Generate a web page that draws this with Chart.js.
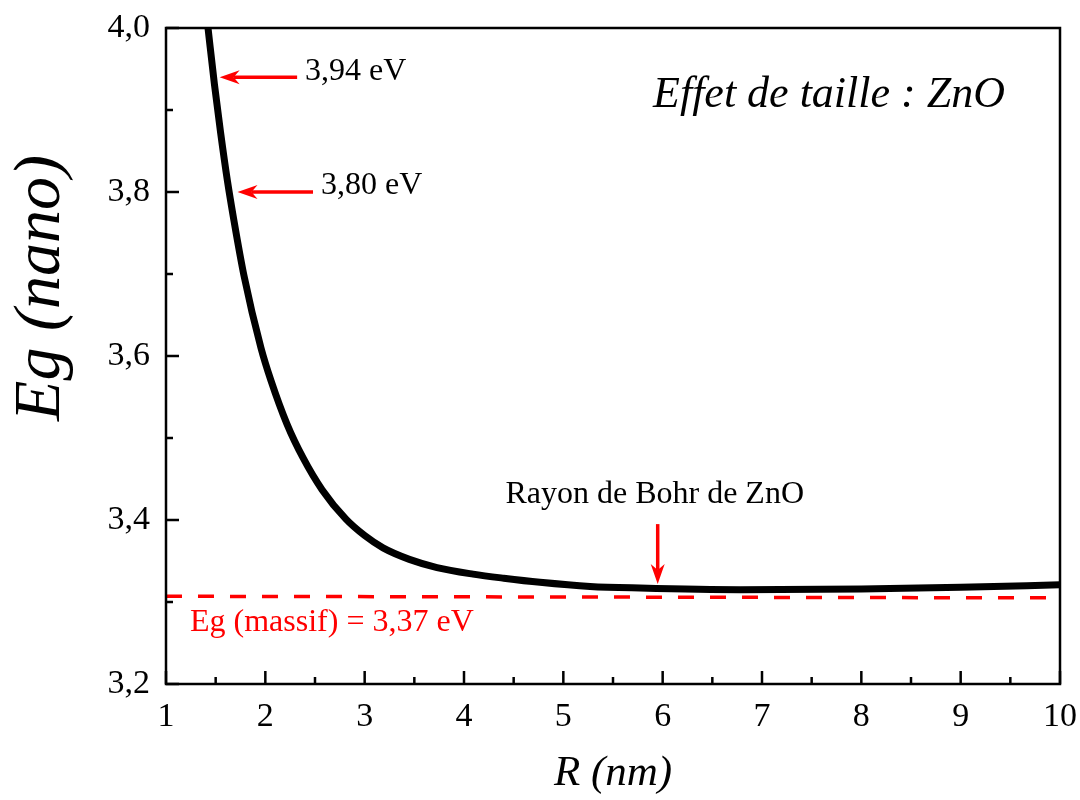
<!DOCTYPE html>
<html>
<head>
<meta charset="utf-8">
<title>Effet de taille : ZnO</title>
<script src="https://cdn.jsdelivr.net/npm/chart.js@4.4.0/dist/chart.umd.min.js"></script>
<style>
  html, body { margin: 0; padding: 0; background: #fff; }
  #wrap { width: 1080px; height: 800px; }
</style>
</head>
<body>
<div id="wrap"><canvas id="gapChart" width="1080" height="800"></canvas></div>
<script>
// Eg(R) du ZnO : gap des nanoparticules en fonction du rayon R (nm)
const rayon  = [1.423, 1.488, 1.549, 1.619, 1.680, 1.785, 1.956, 2.057, 2.218, 2.379, 2.571, 2.812, 3.0, 3.185, 3.45, 3.728, 4.091, 4.4, 4.765, 5.269, 5.772, 6.779, 8.0, 9.0, 10.0];
const egNano = [4.000, 3.931, 3.873, 3.813, 3.768, 3.698, 3.610, 3.570, 3.517, 3.476, 3.437, 3.401, 3.381, 3.366, 3.352, 3.342, 3.334, 3.329, 3.324, 3.319, 3.317, 3.315, 3.316, 3.318, 3.321];

// ligne pointillée du massif (tracée aux extrémités de l'axe R)
const rayonMassif = [1, 10];
const egMassifTrace = [3.307, 3.305];
const egMassif = 3.37;          // valeur affichée dans l'étiquette

// flèches repères sur la courbe (eV) et rayon de Bohr (nm)
const egReperes = [3.94, 3.80];
const rayonBohr = 5.95;

const xTicks = [1, 2, 3, 4, 5, 6, 7, 8, 9, 10];
const yTicks = [3.2, 3.4, 3.6, 3.8, 4.0];

const serif = '"Liberation Serif", "Times New Roman", serif';
const virgule = (v, n) => v.toFixed(n).replace('.', ',');

// flèche rouge : trait de (x0,y0) jusqu'à la pointe (x1,y1)
function fleche(ctx, x0, y0, x1, y1) {
    const ang = Math.atan2(y1 - y0, x1 - x0);
    const L = 20, W = 7, N = 14;
    ctx.save();
    ctx.strokeStyle = '#ff0000';
    ctx.fillStyle = '#ff0000';
    ctx.lineWidth = 3.5;
    ctx.beginPath();
    ctx.moveTo(x0, y0);
    ctx.lineTo(x1 - Math.cos(ang) * N, y1 - Math.sin(ang) * N);
    ctx.stroke();
    ctx.translate(x1, y1);
    ctx.rotate(ang);
    ctx.beginPath();
    ctx.moveTo(0, 0);
    ctx.lineTo(-L, -W);
    ctx.lineTo(-N, 0);
    ctx.lineTo(-L, W);
    ctx.closePath();
    ctx.fill();
    ctx.restore();
}

// cadre, graduations intérieures, titres et annotations
const habillage = {
    id: 'habillage',
    afterDatasetsDraw(chart) {
        const { ctx, chartArea: a, scales: { x, y } } = chart;
        ctx.save();

        // graduations vers l'intérieur (majeures + mineures)
        ctx.strokeStyle = '#000';
        ctx.lineWidth = 2.5;
        ctx.beginPath();
        for (let i = 0; i <= 18; i++) {
            const px = x.getPixelForValue(1 + i * 0.5);
            const len = i % 2 === 0 ? 13 : 7;
            ctx.moveTo(px, a.bottom);
            ctx.lineTo(px, a.bottom - len);
        }
        for (let i = 0; i <= 8; i++) {
            const py = y.getPixelForValue(3.2 + i * 0.1);
            const len = i % 2 === 0 ? 13 : 7;
            ctx.moveTo(a.left, py);
            ctx.lineTo(a.left + len, py);
        }
        ctx.stroke();

        // cadre
        ctx.strokeRect(a.left, a.top, a.right - a.left, a.bottom - a.top);

        // flèches 3,94 eV et 3,80 eV
        const pointes = [1.54, 1.72];
        const queues = [2.32, 2.48];
        ctx.font = '32px ' + serif;
        ctx.fillStyle = '#000';
        ctx.textBaseline = 'middle';
        ctx.textAlign = 'left';
        egReperes.forEach((eg, i) => {
            const py = y.getPixelForValue(eg);
            const x0 = x.getPixelForValue(queues[i]);
            fleche(ctx, x0, py, x.getPixelForValue(pointes[i]), py);
            ctx.fillText(virgule(eg, 2) + ' eV', x0 + 8, py - 6);
        });

        // rayon de Bohr
        const bx = x.getPixelForValue(rayonBohr);
        const byHaut = y.getPixelForValue(3.395);
        fleche(ctx, bx, byHaut, bx, y.getPixelForValue(3.322));
        ctx.textAlign = 'center';
        ctx.fillText('Rayon de Bohr de ZnO', bx - 3, byHaut - 30);

        // étiquette du massif
        ctx.fillStyle = '#ff0000';
        ctx.textAlign = 'left';
        ctx.fillText('Eg (massif) = ' + virgule(egMassif, 2) + ' eV', a.left + 24, y.getPixelForValue(egMassifTrace[0]) + 26);

        // titre dans le cadre
        ctx.fillStyle = '#000';
        ctx.font = 'italic 44px ' + serif;
        ctx.textAlign = 'center';
        ctx.fillText('Effet de taille : ZnO', 829, 95);

        // titre de l'axe vertical
        ctx.translate(42, 288);
        ctx.rotate(-Math.PI / 2);
        ctx.font = 'italic 66px ' + serif;
        ctx.fillText('Eg (nano)', 0, 0);

        ctx.restore();
    }
};

new Chart(document.getElementById('gapChart'), {
    type: 'line',
    data: {
        datasets: [{
            label: 'Eg (nano)',
            data: rayon.map((r, i) => ({ x: r, y: egNano[i] })),
            borderColor: '#000',
            borderWidth: 7,
            pointRadius: 0,
            cubicInterpolationMode: 'monotone',
            fill: false,
            clip: 0
        }, {
            label: 'Eg (massif)',
            data: rayonMassif.map((r, i) => ({ x: r, y: egMassifTrace[i] })),
            borderColor: '#ff0000',
            borderWidth: 3.5,
            borderDash: [16, 16],
            pointRadius: 0,
            fill: false,
            clip: 0
        }]
    },
    options: {
        responsive: false,
        animation: false,
        devicePixelRatio: 1,
        layout: { padding: { top: 28, right: 20, left: 0, bottom: 0 } },
        plugins: { legend: { display: false }, tooltip: { enabled: false } },
        scales: {
            x: {
                type: 'linear',
                min: 1,
                max: 10,
                afterBuildTicks: s => { s.ticks = xTicks.map(v => ({ value: v })); },
                afterFit: s => { s.height = 116; s.paddingLeft = 0; s.paddingRight = 0; },
                grid: { display: false, drawTicks: false },
                border: { display: false },
                ticks: {
                    color: '#000',
                    font: { family: serif, size: 34 },
                    padding: 13,
                    maxRotation: 0,
                    callback: v => String(v)
                },
                title: {
                    display: true,
                    text: 'R (nm)',
                    color: '#000',
                    font: { family: serif, size: 43, style: 'italic' },
                    padding: { top: 0, bottom: 0 }
                }
            },
            y: {
                type: 'linear',
                min: 3.2,
                max: 4.0,
                afterBuildTicks: s => { s.ticks = yTicks.map(v => ({ value: v })); },
                afterFit: s => { s.width = 166; s.paddingTop = 0; s.paddingBottom = 0; },
                grid: { display: false, drawTicks: false },
                border: { display: false },
                ticks: {
                    color: '#000',
                    font: { family: serif, size: 34 },
                    padding: 16,
                    callback: v => virgule(v, 1)
                }
            }
        }
    },
    plugins: [habillage]
});
</script>
</body>
</html>
